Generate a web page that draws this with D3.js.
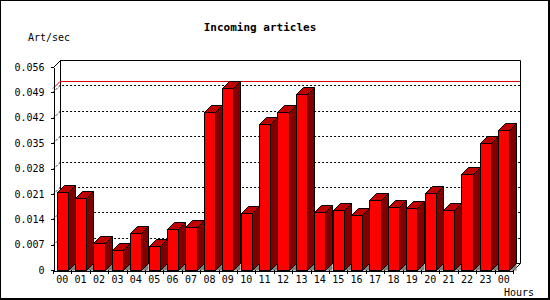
<!DOCTYPE html>
<html>
<head>
<meta charset="utf-8">
<script src="https://cdn.jsdelivr.net/npm/d3@7"></script>
<style>
  body { margin: 0; background: #fff; }
  text { font-family: "DejaVu Sans Mono", monospace; fill: #000; }
</style>
</head>
<body>
<script>
  const hours = ['00', '01', '02', '03', '04', '05', '06', '07', '08', '09', '10', '11',
                 '12', '13', '14', '15', '16', '17', '18', '19', '20', '21', '22', '23', '00'];
  const rates = [0.0214, 0.0198, 0.0074, 0.0054, 0.0101, 0.0065, 0.0112, 0.0118,
                 0.0436, 0.0501, 0.0156, 0.0402, 0.0436, 0.0486, 0.0159, 0.0165,
                 0.0151, 0.0192, 0.0173, 0.0170, 0.0212, 0.0165, 0.0264, 0.0350, 0.0385];
  const yTicks = [0, 0.007, 0.014, 0.021, 0.028, 0.035, 0.042, 0.049, 0.056];

  const width = 550;
  const height = 300;
  const plotLeft = 53, plotRight = 513, plotTop = 67, plotBottom = 270;
  const depth = 7;

  const svg = d3.select('body')
          .append('svg')
          .attr('width', width)
          .attr('height', height);

  // frame
  svg.append('rect')
          .attr('x', 0.5).attr('y', 0.5)
          .attr('width', 548).attr('height', 298)
          .attr('fill', '#fff').attr('stroke', '#000')
          .attr('shape-rendering', 'crispEdges');
  svg.append('path')
          .attr('d', 'M549.5,0 V299.5 H0')
          .attr('fill', 'none').attr('stroke', '#000')
          .attr('shape-rendering', 'crispEdges');

  const x = d3.scaleBand()
          .domain(d3.range(hours.length))
          .range([plotLeft, plotRight])
          .padding(0);
  const y = d3.scaleLinear()
          .domain([0, 0.056])
          .range([plotBottom, plotTop]);

  const bw = x.bandwidth();

  // back wall
  svg.append('path')
          .attr('d', `M${plotLeft + 0.5},${plotTop + 0.5} L${plotLeft + depth + 0.5},${plotTop - depth + 0.5} H${plotRight + depth + 0.5} V${plotBottom - depth + 0.5} L${plotRight + 0.5},${plotBottom + 0.5}`
                  + ` M${plotLeft + depth + 0.5},${plotTop - depth} V${plotBottom - depth + 0.5} H${plotRight + depth}`)
          .attr('fill', 'none').attr('stroke', '#000');

  // dotted grid on the back wall
  svg.append('g')
          .selectAll('path')
          .data(yTicks.slice(1, -1))
          .enter()
          .append('path')
          .attr('d', d => {
            const yy = Math.round(y(d)) + 0.5;
            return `M${plotLeft},${yy} L${plotLeft + depth},${yy - depth} H${plotRight + depth}`;
          })
          .attr('fill', 'none')
          .attr('stroke', '#000')
          .attr('stroke-dasharray', '2,2');

  // max line
  const maxY = Math.round(y(d3.max(rates))) + 0.5;
  svg.append('path')
          .attr('d', `M${plotLeft},${maxY} L${plotLeft + depth},${maxY - depth} H${plotRight + depth}`)
          .attr('fill', 'none')
          .attr('stroke', '#e00000');

  // bars
  const bars = svg.append('g')
          .selectAll('g')
          .data(rates)
          .enter()
          .append('g')
          .attr('stroke', '#000')
          .attr('stroke-linejoin', 'miter');

  const x0 = (d, i) => Math.round(x(i) + bw * 0.2) + 0.5;
  const x1 = (d, i) => Math.round(x(i) + bw * 0.8) + 0.5;
  const yt = d => Math.round(y(d)) + 0.5;
  const yb = plotBottom + 0.5;

  bars.append('path')
          .attr('fill', '#808080')
          .attr('stroke', 'none')
          .attr('d', (d, i) => `M${x1(d, i)},${yb} L${x1(d, i) + depth},${yb - depth} V${yb} Z`);
  bars.append('path')
          .attr('fill', '#800000')
          .attr('d', (d, i) => `M${x1(d, i)},${yt(d)} L${x1(d, i) + depth},${yt(d) - depth} V${yb - depth} L${x1(d, i)},${yb} Z`);
  bars.append('path')
          .attr('fill', '#c00000')
          .attr('d', (d, i) => `M${x0(d, i)},${yt(d)} L${x0(d, i) + depth},${yt(d) - depth} H${x1(d, i) + depth} L${x1(d, i)},${yt(d)} Z`);
  bars.append('rect')
          .attr('fill', '#ff0000')
          .attr('x', (d, i) => x0(d, i))
          .attr('y', d => yt(d))
          .attr('width', (d, i) => x1(d, i) - x0(d, i))
          .attr('height', d => yb - yt(d));

  // y axis
  const yAxis = svg.append('g')
          .attr('transform', `translate(${plotLeft + 0.5},0)`)
          .call(d3.axisLeft(y)
                  .tickValues(yTicks)
                  .tickSize(3)
                  .tickSizeOuter(0)
                  .tickPadding(6)
                  .tickFormat(d => d === 0 ? '0' : d3.format('.3f')(d)));
  yAxis.selectAll('text')
          .attr('font-size', '10px')
          .attr('font-family', '"DejaVu Sans Mono", monospace');
  yAxis.attr('shape-rendering', 'crispEdges');

  // x axis
  const xAxis = svg.append('g')
          .attr('transform', `translate(0,${plotBottom + 0.5})`)
          .call(d3.axisBottom(x)
                  .tickSize(0)
                  .tickSizeOuter(0)
                  .tickPadding(5)
                  .tickFormat(i => hours[i]));
  xAxis.selectAll('text')
          .attr('font-size', '10px')
          .attr('font-family', '"DejaVu Sans Mono", monospace');
  xAxis.attr('shape-rendering', 'crispEdges');

  svg.append('g')
          .selectAll('line')
          .data(d3.range(hours.length + 1))
          .enter()
          .append('line')
          .attr('x1', i => Math.round(plotLeft + i * bw) + 0.5)
          .attr('x2', i => Math.round(plotLeft + i * bw) + 0.5)
          .attr('y1', plotBottom)
          .attr('y2', plotBottom + 4)
          .attr('stroke', '#000');

  // titles
  svg.append('text')
          .attr('x', 260)
          .attr('y', 31)
          .attr('text-anchor', 'middle')
          .attr('font-size', '11px')
          .attr('font-weight', 'bold')
          .text('Incoming articles');
  svg.append('text')
          .attr('x', 28)
          .attr('y', 40.5)
          .attr('font-size', '10px')
          .text('Art/sec');
  svg.append('text')
          .attr('x', 534)
          .attr('y', 295.5)
          .attr('text-anchor', 'end')
          .attr('font-size', '10px')
          .text('Hours');
</script>
</body>
</html>
